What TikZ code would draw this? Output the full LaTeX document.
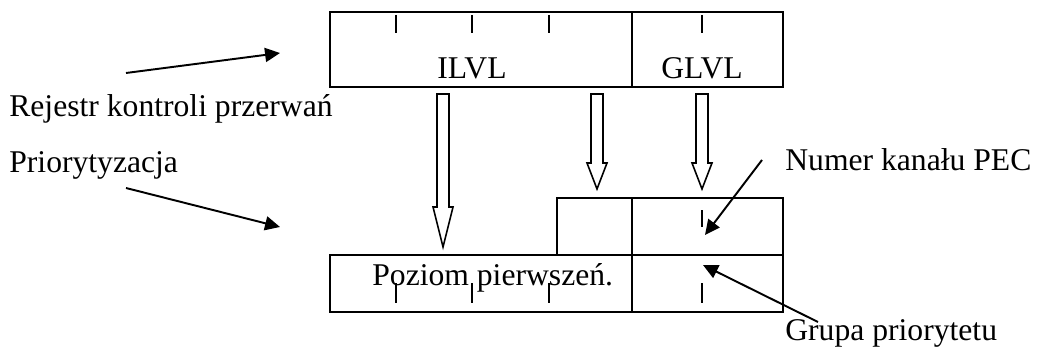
\documentclass[tikz,border=0pt]{standalone}
\usepackage{fontspec}
\setmainfont{Liberation Serif}
\usetikzlibrary{arrows.meta}
\begin{document}
\begin{tikzpicture}[scale=0.2]
\tikzstyle{every node}+=[inner sep=0pt, font=\fontsize{18}{21}\selectfont]
\tikzstyle{field}=[line width=1.4pt]
\tikzstyle{bit}=[line width=0.8pt]
\tikzstyle{hollow}=[line width=0.9pt, line join=miter]
\tikzstyle{pointer}=[line width=1.1pt, -{Triangle[length=8.5pt,width=8pt]}]
\useasboundingbox (0,0) rectangle (103.8,-34.7);

% control register
\draw [field] (33,-1.2) rectangle (63.2,-8.7);
\draw [field] (63.2,-1.2) rectangle (78.3,-8.7);
\foreach \x in {39.6,47.2,54.9,70.2}
  \draw [bit] (\x,-1.5) -- (\x,-3.3);
\node [anchor=base] (ilvl) at (47.2,-7.9) {ILVL};
\node [anchor=base] (glvl) at (70.2,-7.9) {GLVL};

% priority word
\draw [field] (55.7,-19.8) rectangle (63.2,-25.5);
\draw [field] (63.2,-19.8) rectangle (78.3,-25.5);
\draw [field] (33,-25.5) rectangle (63.2,-31.2);
\draw [field] (63.2,-25.5) rectangle (78.3,-31.2);
\draw [bit] (70.2,-21) -- (70.2,-22.7);
\foreach \x in {39.6,47.2,54.9,70.2}
  \draw [bit] (\x,-28.3) -- (\x,-30.3);
\node [anchor=base west] (poziom) at (37.2,-28.5) {Poziom pierwszeń.};

% transfer arrows
\draw [hollow] (43.7,-9.4) -- (44.9,-9.4) -- (44.9,-20.7) -- (45.3,-20.7) -- (44.3,-24.7) -- (43.3,-20.7) -- (43.7,-20.7) -- cycle;
\draw [hollow] (59.1,-9.4) -- (60.3,-9.4) -- (60.3,-16.3) -- (60.7,-16.3) -- (59.7,-18.9) -- (58.7,-16.3) -- (59.1,-16.3) -- cycle;
\draw [hollow] (69.6,-9.4) -- (70.8,-9.4) -- (70.8,-16.3) -- (71.2,-16.3) -- (70.2,-18.9) -- (69.2,-16.3) -- (69.6,-16.3) -- cycle;

% labels
\node [anchor=base west] (rejestr) at (0.9,-11.7) {Rejestr kontroli przerwań};
\node [anchor=base west] (prio) at (0.9,-17.2) {Priorytyzacja};
\node [anchor=base west] (numer) at (78.5,-17.0) {Numer kanału PEC};
\node [anchor=base west] (grupa) at (78.5,-34.0) {Grupa priorytetu};

\coordinate (r1) at (12.6,-7.3);
\coordinate (r2) at (28,-5.3);
\coordinate (p1) at (12.6,-18.8);
\coordinate (p2) at (28,-22.7);
\coordinate (n1) at (76.2,-16.0);
\coordinate (n2) at (70.5,-23.5);
\coordinate (g1) at (81.8,-32.2);
\coordinate (g2) at (70.3,-26.5);
\draw [pointer] (r1) -- (r2);
\draw [pointer] (p1) -- (p2);
\draw [pointer] (n1) -- (n2);
\draw [pointer] (g1) -- (g2);
\end{tikzpicture}
\end{document}
